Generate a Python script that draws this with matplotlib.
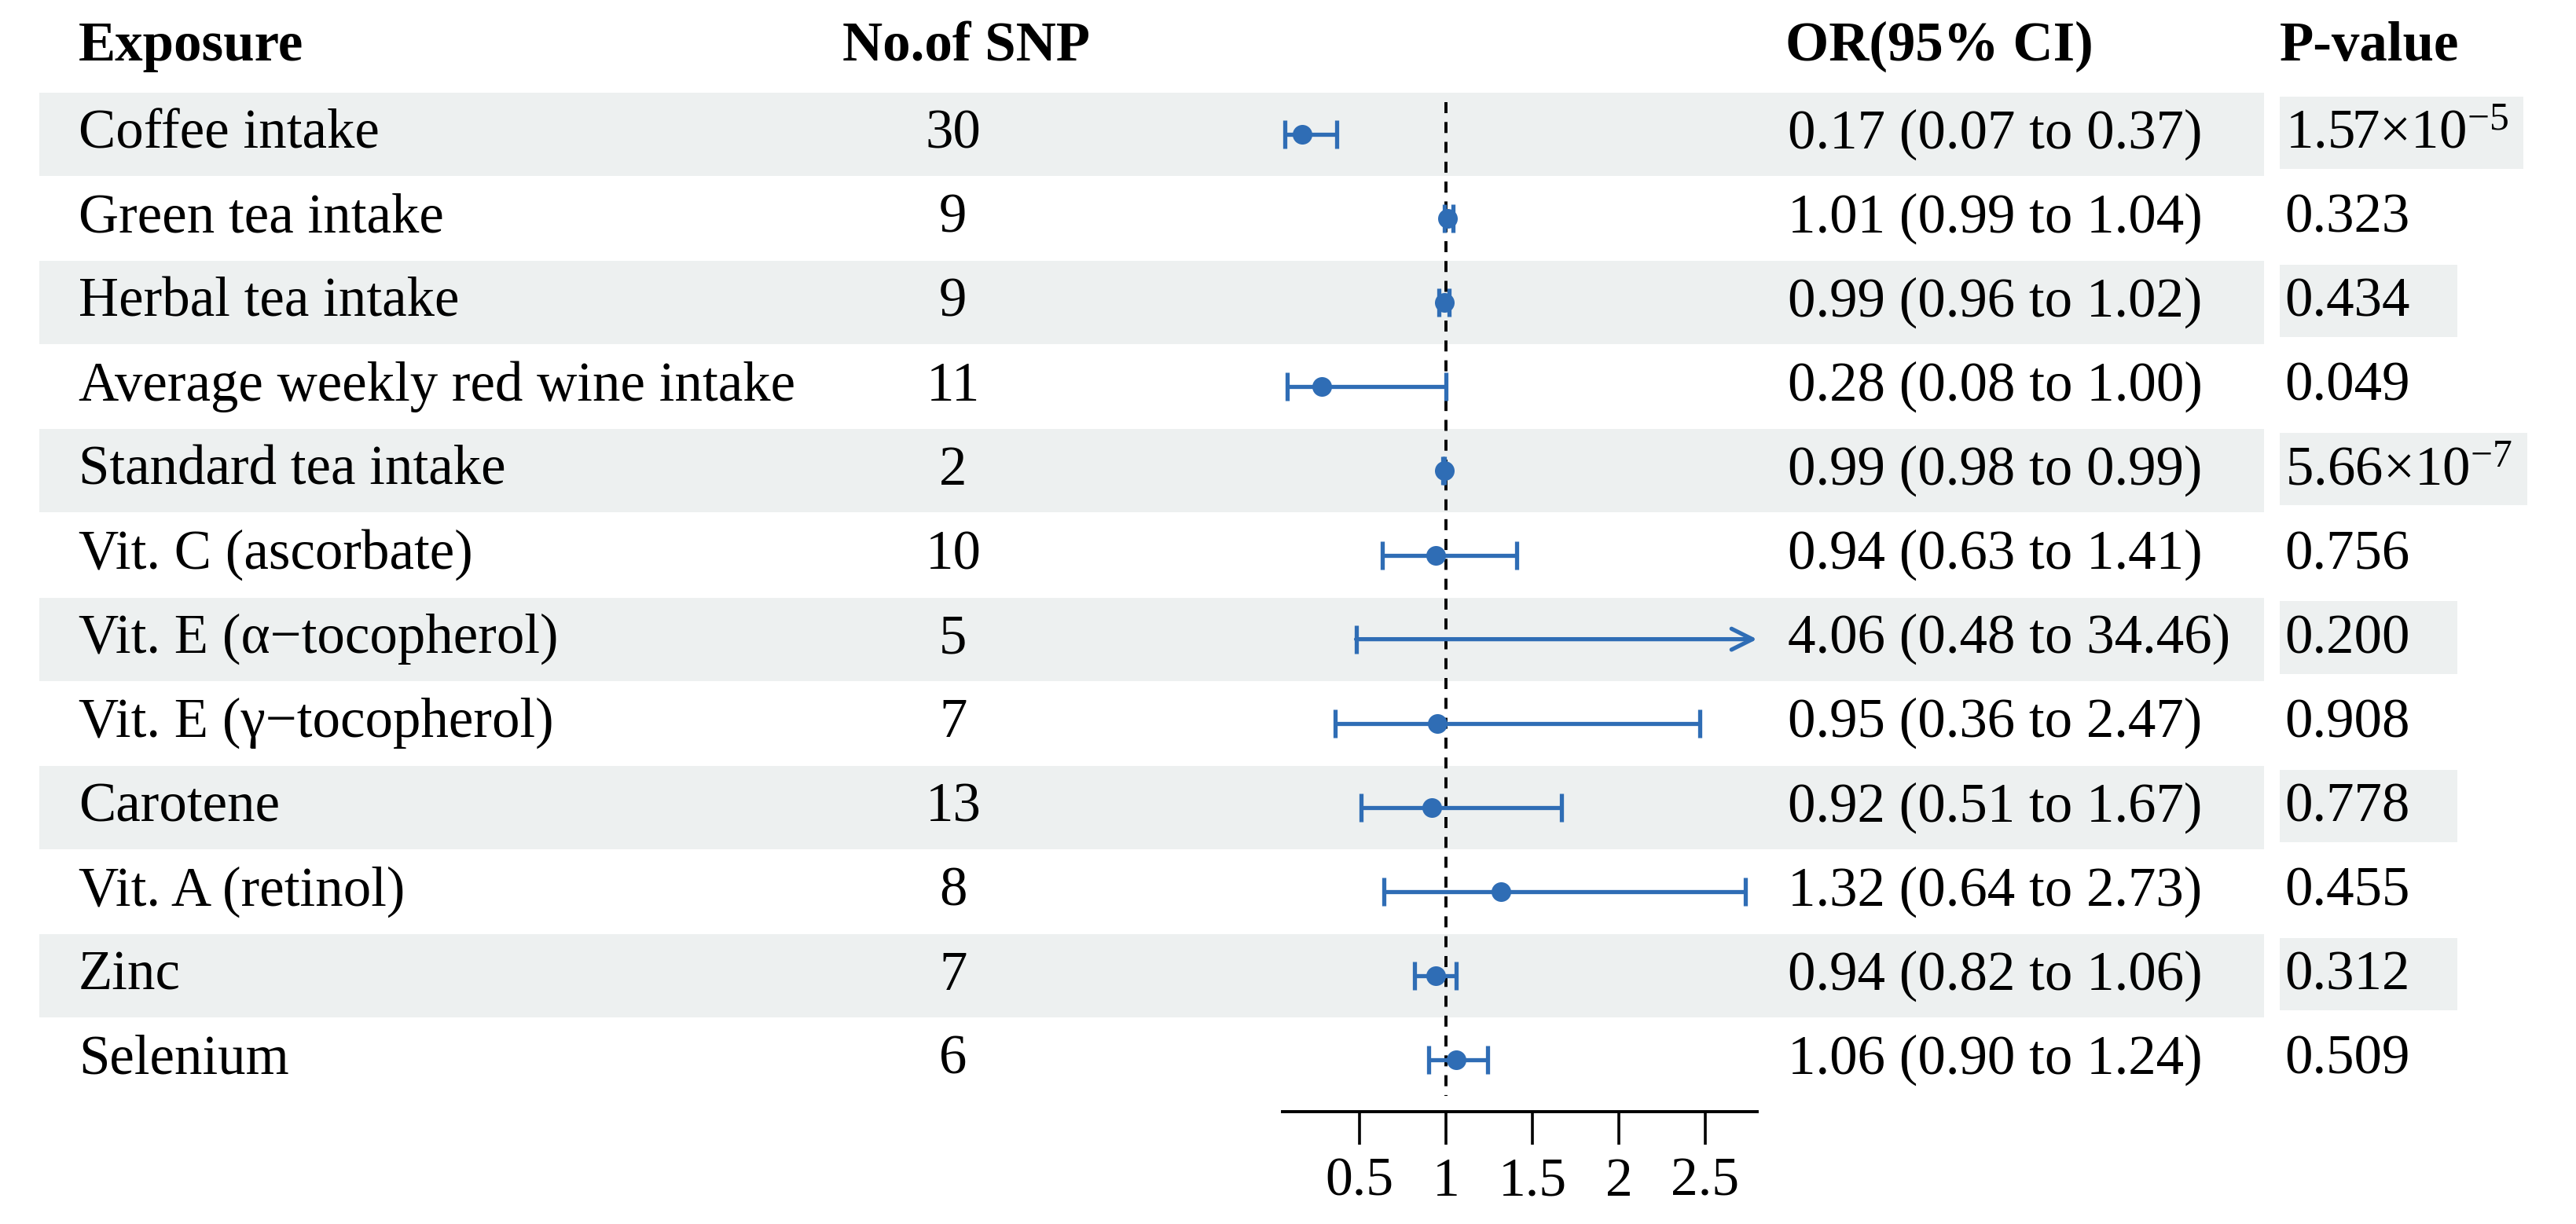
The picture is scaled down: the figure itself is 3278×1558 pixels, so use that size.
import matplotlib
matplotlib.use('Agg')
import matplotlib.pyplot as plt
from matplotlib.transforms import blended_transform_factory
from matplotlib.patches import Rectangle

plt.rcParams['font.family'] = ['Liberation Serif', 'DejaVu Serif']
plt.rcParams['mathtext.fontset'] = 'custom'
plt.rcParams['mathtext.rm'] = 'Liberation Serif'
plt.rcParams['mathtext.it'] = 'Liberation Serif:italic'
plt.rcParams['mathtext.bf'] = 'Liberation Serif:bold'

# data
exposures = ['Coffee intake', 'Green tea intake', 'Herbal tea intake',
             'Average weekly red wine intake', 'Standard tea intake',
             'Vit. C (ascorbate)', 'Vit. E (\u03b1\u2212tocopherol)',
             'Vit. E (\u03b3\u2212tocopherol)', 'Carotene', 'Vit. A (retinol)',
             'Zinc', 'Selenium']
n_snp = [30, 9, 9, 11, 2, 10, 5, 7, 13, 8, 7, 6]
or_val = [0.17, 1.01, 0.99, 0.28, 0.99, 0.94, 4.06, 0.95, 0.92, 1.32, 0.94, 1.06]
ci_low = [0.07, 0.99, 0.96, 0.08, 0.98, 0.63, 0.48, 0.36, 0.51, 0.64, 0.82, 0.90]
ci_high = [0.37, 1.04, 1.02, 1.00, 0.99, 1.41, 34.46, 2.47, 1.67, 2.73, 1.06, 1.24]
p_labels = ['1.57\u00d710$^{-5}$', '0.323', '0.434', '0.049', '5.66\u00d710$^{-7}$',
            '0.756', '0.200', '0.908', '0.778', '0.455', '0.312', '0.509']
x_ticks = [0.5, 1, 1.5, 2, 2.5]
x_ticklabels = ['0.5', '1', '1.5', '2', '2.5']
headers = ['Exposure', 'No.of SNP', 'OR(95% CI)', 'P-value']

blue = '#2f6db5'
shade = '#edf0f0'
fs = 25.5
hfs = 25.5
xmin, xmax = 0.055, 2.80

fig = plt.figure(figsize=(16.39, 7.79), dpi=200)
ax = fig.add_axes([0.4979, 0.0918, 0.1842, 0.9082])
ax.patch.set_visible(False)
ax.set_xlim(xmin, xmax)
ax.set_ylim(11.615, -1.597)

trans = blended_transform_factory(fig.transFigure, ax.transData)

x_name, x_num, x_or, x_p = 0.0305, 0.370, 0.694, 0.887
y_head = -1.04

# header
ax.text(x_name, y_head, headers[0], transform=trans, fontsize=hfs, fontweight='bold', va='center')
ax.text(0.375, y_head, headers[1], transform=trans, fontsize=hfs, fontweight='bold', va='center', ha='center')
ax.text(x_or - 0.001, y_head, headers[2], transform=trans, fontsize=hfs, fontweight='bold', va='center')
ax.text(x_p - 0.002, y_head, headers[3], transform=trans, fontsize=hfs, fontweight='bold', va='center')

p_texts = []
for i in range(len(exposures)):
    if i % 2 == 0:
        band = Rectangle((0.0153, i - 0.495), 0.879 - 0.0153, 0.99, transform=trans,
                         facecolor=shade, edgecolor='none', zorder=-2)
        fig.add_artist(band)
    ax.text(x_name, i, exposures[i], transform=trans, fontsize=fs, va='center')
    ax.text(x_num, i, str(n_snp[i]), transform=trans, fontsize=fs, va='center', ha='center')
    or_str = '%.2f (%.2f to %.2f)' % (or_val[i], ci_low[i], ci_high[i])
    ax.text(x_or, i, or_str, transform=trans, fontsize=fs, va='center')
    t = ax.text(x_p, i, p_labels[i], transform=trans, fontsize=fs, va='center')
    p_texts.append(t)

    if ci_high[i] <= xmax:
        ax.errorbar(or_val[i], i, xerr=[[or_val[i] - ci_low[i]], [ci_high[i] - or_val[i]]],
                    fmt='o', color=blue, ms=8, elinewidth=1.9, capsize=6.5, capthick=1.9, zorder=3)
    else:
        ax.annotate('', xy=(xmax, i), xytext=(ci_low[i], i),
                    arrowprops=dict(arrowstyle='->', color=blue, lw=1.9,
                                    shrinkA=0, shrinkB=0, mutation_scale=24),
                    zorder=3)
        ax.plot([ci_low[i]], [i], marker='|', color=blue, ms=13, mew=1.9, zorder=3)
        if or_val[i] <= xmax:
            ax.plot([or_val[i]], [i], 'o', color=blue, ms=8, zorder=3)

ax.plot([1, 1], [-0.38, 11.43], color='black', lw=1.4, dashes=(3.6, 2.9), zorder=2)

for s in ['top', 'left', 'right']:
    ax.spines[s].set_visible(False)
ax.spines['bottom'].set_linewidth(1.4)
ax.set_yticks([])
ax.set_xticks(x_ticks)
ax.set_xticklabels(x_ticklabels)
ax.tick_params(axis='x', length=15, width=1.3, labelsize=25, pad=6)

# grey boxes behind the p-values of shaded rows
fig.canvas.draw()
r = fig.canvas.get_renderer()
inv = fig.transFigure.inverted()
for i, t in enumerate(p_texts):
    if i % 2 == 0:
        bb = t.get_window_extent(renderer=r).transformed(inv)
        right = max(bb.x0 + 0.067, bb.x1 + 0.006)
        box = Rectangle((bb.x0 - 0.002, i - 0.45), right - bb.x0 + 0.002, 0.86, transform=trans,
                        facecolor=shade, edgecolor='none', zorder=-2)
        fig.add_artist(box)

fig.savefig('out.png', dpi=200, facecolor='white')
